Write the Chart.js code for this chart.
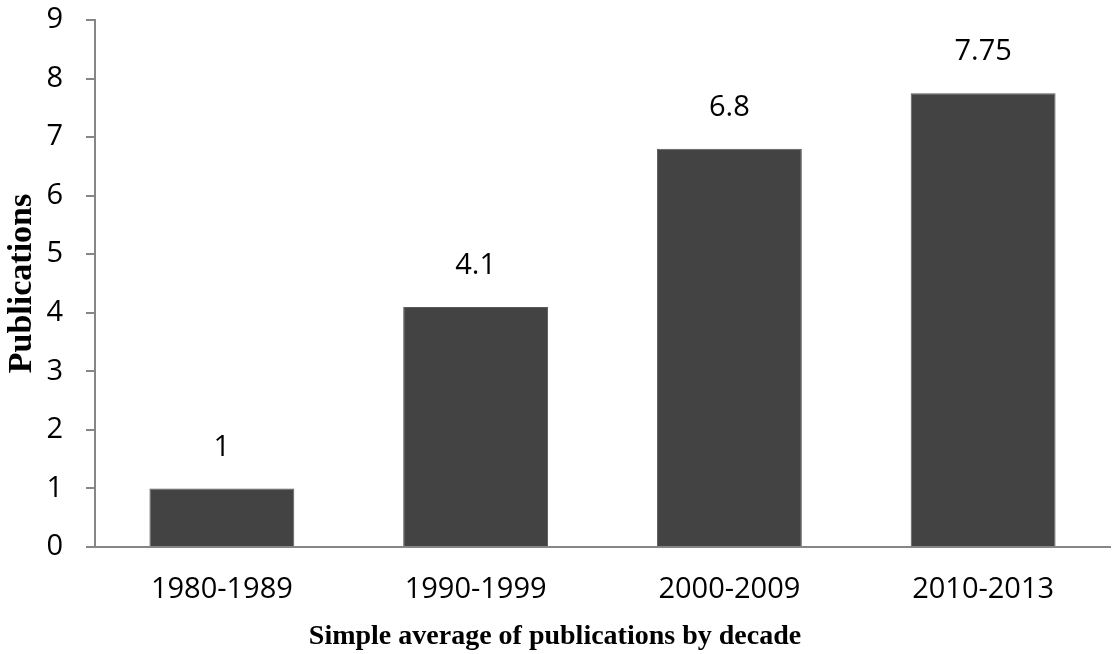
<!DOCTYPE html>
<html>
<head>
<meta charset="utf-8">
<title>Simple average of publications by decade</title>
<script src="https://cdn.jsdelivr.net/npm/chart.js@4/dist/chart.umd.min.js"></script>
<style>
  html, body { margin: 0; padding: 0; background: #ffffff; }
  #wrap { width: 1117px; height: 654px; }
</style>
</head>
<body>
<div id="wrap"><canvas id="chart" width="1117" height="654"></canvas></div>
<script>
// Decades and average publications per year in each
const decades = ['1980-1989', '1990-1999', '2000-2009', '2010-2013'];
const avgPublications = [1, 4.1, 6.8, 7.75];
const yTicks = [0, 1, 2, 3, 4, 5, 6, 7, 8, 9];

const xTitle = 'Simple average of publications by decade';
const yTitle = 'Publications';

const axisGray = '#868686';
const barColor = '#434343';
const sansFont = "'Open Sans', 'DejaVu Sans', sans-serif";
const serifFont = "'Liberation Serif', 'Times New Roman', serif";

// Writes each bar's value above it
const valueLabels = {
  id: 'valueLabels',
  afterDatasetsDraw(chart) {
    const ctx = chart.ctx;
    const meta = chart.getDatasetMeta(0);
    ctx.save();
    ctx.fillStyle = '#000000';
    ctx.font = '29px ' + sansFont;
    ctx.textAlign = 'center';
    ctx.textBaseline = 'middle';
    meta.data.forEach((bar, i) => {
      ctx.fillText(String(avgPublications[i]), bar.x, bar.y - 41);
    });
    ctx.restore();
  }
};

new Chart(document.getElementById('chart'), {
  type: 'bar',
  data: {
    labels: decades,
    datasets: [{
      data: avgPublications,
      backgroundColor: barColor,
      borderColor: '#5a5a5a',
      borderWidth: 1,
      barPercentage: 0.571,
      categoryPercentage: 1.0
    }]
  },
  options: {
    responsive: false,
    animation: false,
    devicePixelRatio: 1,
    layout: { padding: { left: 0, top: 20, right: 7, bottom: 0 } },
    plugins: {
      legend: { display: false },
      tooltip: { enabled: false },
      // x-axis caption, centred on the full canvas width
      title: {
        display: true,
        position: 'bottom',
        text: xTitle,
        color: '#000000',
        font: { family: serifFont, size: 28, weight: 'bold', lineHeight: 1.2 },
        padding: { top: 4, bottom: 0 }
      }
    },
    scales: {
      x: {
        grid: { drawOnChartArea: false, drawTicks: false },
        border: { display: true, color: axisGray, width: 2 },
        ticks: {
          color: '#000000',
          font: { family: sansFont, size: 29 },
          padding: 25,
          maxRotation: 0
        },
        afterFit(scale) { scale.height = 69.4; }
      },
      y: {
        min: 0,
        max: 9,
        afterBuildTicks(scale) { scale.ticks = yTicks.map(v => ({ value: v })); },
        grid: { drawOnChartArea: false, drawTicks: true, tickLength: 9, color: axisGray, lineWidth: 2 },
        border: { display: true, color: axisGray, width: 2 },
        ticks: {
          color: '#000000',
          font: { family: sansFont, size: 29 },
          padding: 23
        },
        title: {
          display: true,
          text: yTitle,
          color: '#000000',
          font: { family: serifFont, size: 34, weight: 'bold' },
          padding: { top: 2, bottom: 0 }
        },
        afterFit(scale) {
          scale.width = 95;
          scale.paddingTop = 0;
          scale.paddingBottom = 0;
        }
      }
    }
  },
  plugins: [valueLabels]
});
</script>
</body>
</html>
